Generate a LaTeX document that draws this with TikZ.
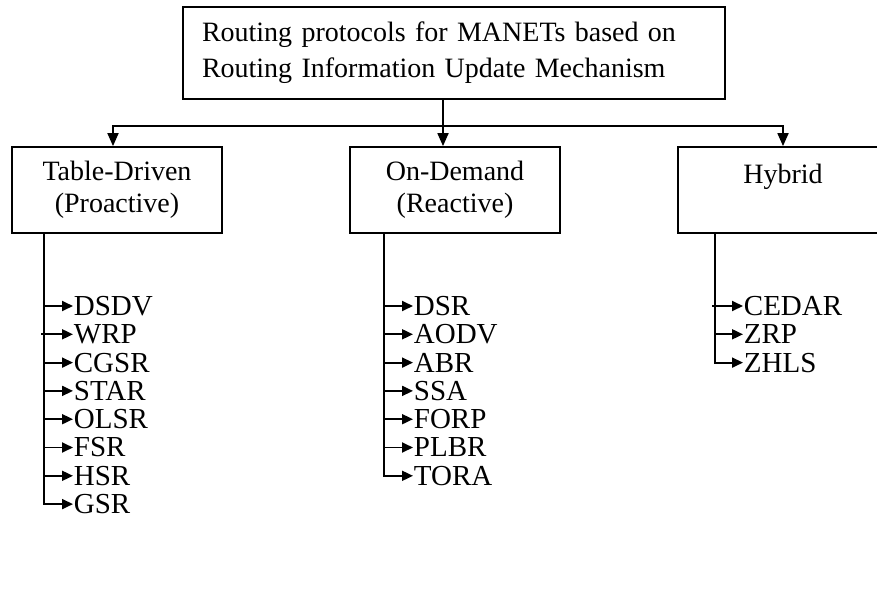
\documentclass[tikz,border=0pt]{standalone}
\usepackage{fontspec}
\setmainfont{Liberation Serif}
\usetikzlibrary{arrows.meta}
\begin{document}
\begin{tikzpicture}[x=1pt,y=-1pt, line width=1.8pt,
  box/.style={draw, minimum width=210pt, minimum height=86pt, align=center, inner sep=0pt, font=\fontsize{28}{32}\selectfont},
  item/.style={anchor=west, inner sep=0pt, font=\fontsize{29}{32}\selectfont},
  bigarrow/.style={-{Triangle[length=13pt,width=11pt]}},
  smallarrow/.style={-{Triangle[length=11pt,width=10pt]}}]
\useasboundingbox (0,0) rectangle (877,594);
\node[draw, minimum width=542pt, minimum height=92pt, text width=504pt, align=left, inner sep=0pt, font=\fontsize{28}{36}\selectfont] (top) at (454,53) {Routing protocols for MANETs based on\\Routing Information Update Mechanism};
\node[box] (td) at (117,190) {Table-Driven\\(Proactive)};
\node[box] (od) at (455,190) {On-Demand\\(Reactive)};
\node[box] (hy) at (783,190) {Hybrid\\\mbox{}};
\coordinate (busL) at (113,126);
\coordinate (busM) at (443,126);
\coordinate (busR) at (783,126);
\draw (top.south -| busM) -- (busM);
\draw[bigarrow] (busM) -- (busM |- od.north);
\draw[bigarrow] (busM) -- (busL) -- (busL |- td.north);
\draw[bigarrow] (busM) -- (busR) -- (busR |- hy.north);
% Table-driven list
\coordinate (tds) at (44,233);
\node[item] (dsdv) at (73,306) {DSDV};
\node[item] (wrp) at (73,334.3) {WRP};
\node[item] (cgsr) at (73,362.6) {CGSR};
\node[item] (star) at (73,390.9) {STAR};
\node[item] (olsr) at (73,419.2) {OLSR};
\node[item] (fsr) at (73,447.5) {FSR};
\node[item] (hsr) at (73,475.8) {HSR};
\node[item] (gsr) at (73,504.1) {GSR};
\draw[smallarrow] (tds) |- (gsr.west);
\foreach \n in {dsdv,cgsr,star,olsr,fsr,hsr}
  \draw[smallarrow] (\n.west -| tds) -- (\n.west);
\draw[smallarrow] ([xshift=-3pt]wrp.west -| tds) -- (wrp.west);
% On-demand list
\coordinate (ods) at (384,233);
\node[item] (dsr) at (413,306) {DSR};
\node[item] (aodv) at (413,334.3) {AODV};
\node[item] (abr) at (413,362.6) {ABR};
\node[item] (ssa) at (413,390.9) {SSA};
\node[item] (forp) at (413,419.2) {FORP};
\node[item] (plbr) at (413,447.5) {PLBR};
\node[item] (tora) at (413,475.8) {TORA};
\draw[smallarrow] (ods) |- (tora.west);
\foreach \n in {dsr,aodv,abr,ssa,forp,plbr}
  \draw[smallarrow] (\n.west -| ods) -- (\n.west);
% Hybrid list
\coordinate (hys) at (715,233);
\node[item] (cedar) at (743,306) {CEDAR};
\node[item] (zrp) at (743,334.3) {ZRP};
\node[item] (zhls) at (743,362.6) {ZHLS};
\draw[smallarrow] (hys) |- (zhls.west);
\draw[smallarrow] (zrp.west -| hys) -- (zrp.west);
\draw[smallarrow] ([xshift=-3pt]cedar.west -| hys) -- (cedar.west);
\end{tikzpicture}
\end{document}
